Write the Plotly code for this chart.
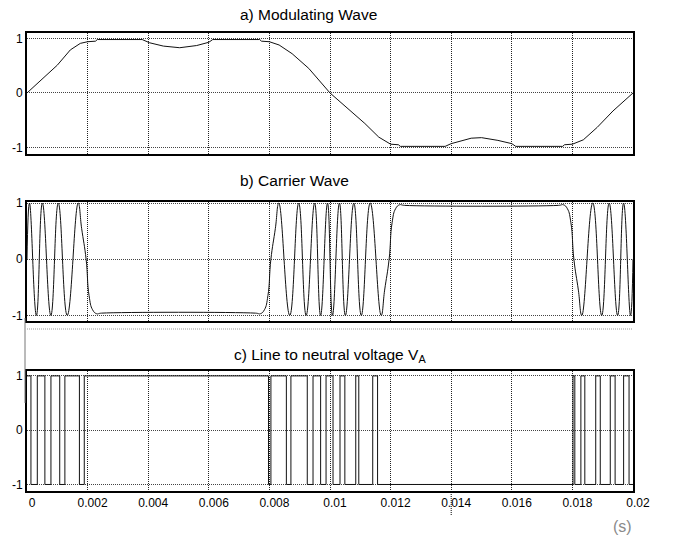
import plotly.graph_objects as go

# ---------------- data ----------------
# a) modulating wave
mod_t = [0, 0.00056, 0.001, 0.00143, 0.00176, 0.002, 0.00226, 0.00232, 0.0038, 0.00405,
         0.0045, 0.00504, 0.0056, 0.006, 0.00613, 0.00768, 0.00774, 0.008, 0.00832, 0.00875,
         0.0093, 0.01,
         0.0103, 0.01072, 0.01115, 0.01161, 0.01193, 0.012, 0.01226, 0.01232, 0.0138, 0.014,
         0.01466, 0.015, 0.01554, 0.016, 0.01613, 0.01768, 0.01774, 0.018, 0.01836, 0.01882,
         0.01934, 0.02]
mod_v = [0, 0.28, 0.51, 0.79, 0.91, 0.94, 0.95, 0.98, 0.98, 0.92,
         0.86, 0.83, 0.87, 0.93, 0.98, 0.98, 0.95, 0.94, 0.88, 0.72,
         0.45, 0.0,
         -0.15, -0.35, -0.56, -0.81, -0.92, -0.94, -0.95, -0.98, -0.98, -0.93,
         -0.83, -0.82, -0.87, -0.93, -0.98, -0.98, -0.95, -0.94, -0.86, -0.63,
         -0.33, 0.0]

# b) carrier wave
car_t = [0, 0.000082, 0.000311, 0.000508, 0.000787, 0.001033, 0.001328, 0.001689, 0.001803,
         0.001951, 0.002049, 0.002164, 0.002295, 0.002459,
         0.007541, 0.007705, 0.007836, 0.007951, 0.008049, 0.008197, 0.008311, 0.008672,
         0.008967, 0.009213, 0.009492, 0.009689, 0.009918, 0.010082, 0.010311, 0.010508,
         0.010787, 0.011033, 0.011328, 0.011689, 0.011803, 0.011951, 0.012049, 0.012164,
         0.012295, 0.012459,
         0.017541, 0.017705, 0.017836, 0.017951, 0.018049, 0.018197, 0.018311, 0.018672,
         0.018967, 0.019213, 0.019492, 0.019689, 0.019918, 0.02]
car_v = [0, 1, -1, 1, -1, 1, -1, 1, 0.55,
         0, -0.65, -0.9, -0.97, -0.96,
         -0.96, -0.97, -0.9, -0.65, 0, 0.55, 1, -1,
         1, -1, 1, -1, 1, -1, 1, -1,
         1, -1, 1, -1, -0.55, 0, 0.65, 0.9,
         0.97, 0.96,
         0.96, 0.97, 0.9, 0.65, 0, -0.55, -1, 1,
         -1, 1, -1, 1, -1, 0]

# c) line to neutral voltage (switching instants and level after each)
pwm_t = [0, 0.00013, 0.00034, 0.00059, 0.00079, 0.00108, 0.00125, 0.00173, 0.00189,
         0.00797, 0.00805, 0.00856, 0.00871, 0.00925, 0.00944, 0.00969, 0.00987, 0.0101,
         0.01033, 0.01049, 0.01085, 0.01095, 0.01141, 0.01157,
         0.01802, 0.01808, 0.01828, 0.01841, 0.01877, 0.01892, 0.01925, 0.01941, 0.01969,
         0.01987, 0.02]
pwm_v = [1, -1, 1, -1, 1, -1, 1, -1, 1,
         -1, 1, -1, 1, -1, 1, -1, 1, -1,
         1, -1, 1, -1, 1, -1,
         1, -1, 1, -1, 1, -1, 1, -1, 1,
         -1, -1]

x_ticks = [0, 0.002, 0.004, 0.006, 0.008, 0.01, 0.012, 0.014, 0.016, 0.018, 0.02]
x_ticktext = ["0", "0.002", "0.004", "0.006", "0.008", "0.01", "0.012", "0.014", "0.016", "0.018", "0.02"]
y_ticks = [-1, 0, 1]
y_ticktext = ["-1", "0", "1"]
titles = ["a) Modulating Wave", "b) Carrier Wave", "c) Line to neutral voltage V<sub>A</sub>"]

# ---------------- figure ----------------
FONT = "Arial, 'Liberation Sans', sans-serif"
fig = go.Figure()
fig.add_trace(go.Scatter(x=mod_t, y=mod_v, mode="lines",
                         line=dict(color="#111111", width=1),
                         xaxis="x", yaxis="y", hoverinfo="skip"))
fig.add_trace(go.Scatter(x=car_t, y=car_v, mode="lines",
                         line=dict(color="#111111", width=1, shape="spline", smoothing=1.3),
                         xaxis="x2", yaxis="y2", hoverinfo="skip"))
fig.add_trace(go.Scatter(x=pwm_t, y=pwm_v, mode="lines",
                         line=dict(color="#111111", width=1, shape="hv"),
                         xaxis="x3", yaxis="y3", hoverinfo="skip"))


def xax(anchor, labels):
    return dict(domain=[0, 1], anchor=anchor, range=[0, 0.02], tickvals=x_ticks,
                ticktext=x_ticktext, showticklabels=labels, ticks="",
                showgrid=True, gridcolor="#222222", griddash="1px,1px", gridwidth=1,
                showline=True, mirror=True, linecolor="#000000", linewidth=2,
                zeroline=False, ticklabelshift=5,
                tickfont=dict(size=12, color="#000000", family=FONT))


def yax(anchor, dom, rng):
    return dict(domain=dom, anchor=anchor, range=rng, tickvals=y_ticks,
                ticktext=y_ticktext, ticks="", showgrid=True, gridcolor="#444444",
                griddash="1px,1px", gridwidth=1, showline=True, mirror=True,
                linecolor="#000000", linewidth=2, zeroline=False,
                tickfont=dict(size=12, color="#000000", family=FONT))


fig.update_layout(
    width=676, height=538, autosize=False,
    margin=dict(l=23, r=43, t=33, b=47),
    paper_bgcolor="white", plot_bgcolor="white",
    showlegend=False,
    font=dict(family=FONT, color="#000000"),
    xaxis=xax("y", False),
    yaxis=yax("x", [0.7358, 1.0], [-1.12, 1.10]),
    xaxis2=xax("y2", False),
    yaxis2=yax("x2", [0.3712, 0.631], [-1.10, 1.02]),
    xaxis3=xax("y3", True),
    yaxis3=yax("x3", [0.0, 0.262], [-1.12, 1.09]),
)

ann = [
    dict(text=titles[0], x=0.3475, y=1.0404),
    dict(text=titles[1], x=0.3475, y=0.679),
    dict(text=titles[2], x=0.339, y=0.2948),
]
for a in ann:
    fig.add_annotation(text=a["text"], x=a["x"], y=a["y"], xref="paper", yref="paper",
                       xanchor="left", yanchor="middle", showarrow=False,
                       font=dict(size=15.5, color="#000000", family=FONT))
fig.add_annotation(text="(s)", x=0.982, y=-0.0786, xref="paper", yref="paper",
                   xanchor="center", yanchor="middle", showarrow=False,
                   font=dict(size=16, color="#8a8a8a", family=FONT))

# decorations seen in the reference
fig.add_shape(type="line", xref="paper", yref="paper", x0=0, x1=1, y0=0.3537, y1=0.3537,
              line=dict(color="#999999", width=1, dash="1px,1px"))
fig.add_shape(type="line", xref="paper", yref="paper", x0=-0.0033, x1=-0.0033,
              y0=0.3777, y1=0.1921, line=dict(color="#777777", width=1))
fig.add_shape(type="line", xref="x3", yref="paper", x0=0.014, x1=0.014, y0=-0.0524, y1=0,
              line=dict(color="#000000", width=1, dash="1px,1px"))

fig.write_html("out.html")
